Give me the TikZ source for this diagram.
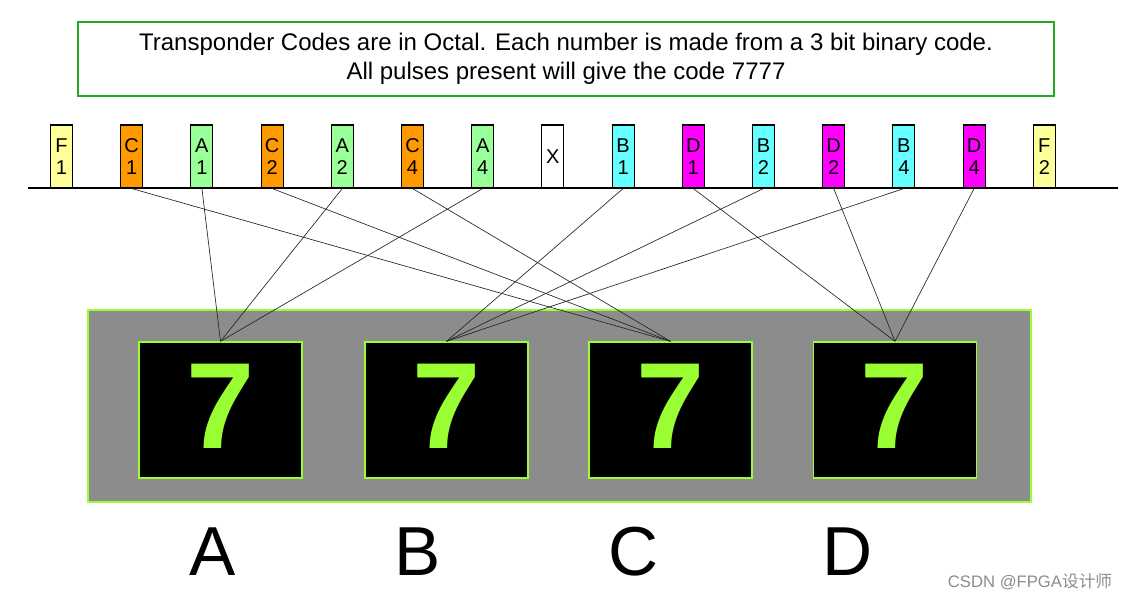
\documentclass[tikz,border=0pt]{standalone}
\usepackage{fontspec}
\setmainfont{Liberation Sans}
\newfontfamily\cjkfont{Noto Sans CJK SC}
\usetikzlibrary{positioning}
\definecolor{pulseF}{HTML}{FFFF99}
\definecolor{pulseC}{HTML}{FF9900}
\definecolor{pulseA}{HTML}{99FF99}
\definecolor{pulseB}{HTML}{66FFFF}
\definecolor{pulseD}{HTML}{FF00FF}
\definecolor{segGreen}{HTML}{99FF33}
\definecolor{titleGreen}{HTML}{22AA22}
\definecolor{panelGray}{HTML}{8C8C8C}

\begin{document}
\begin{tikzpicture}[
    x=0.75pt, y=-0.75pt,
    titlebox/.style={draw=titleGreen, line width=1pt, minimum width=732pt,
                minimum height=55.5pt, align=center, inner sep=0pt,
                font=\fontsize{18}{22}\selectfont},
    pulse/.style={draw, line width=0.8pt, minimum width=16.5pt, minimum height=47.25pt,
                inner sep=0pt, align=center, font=\fontsize{15}{16}\selectfont},
    panel/.style={draw=segGreen, line width=0.8pt, fill=panelGray, minimum width=707.25pt,
                minimum height=144pt, inner sep=0pt},
    display/.style={draw=segGreen, line width=1pt, fill=black, minimum width=122.25pt,
                minimum height=102pt, inner sep=0pt},
    digit/.style={text=segGreen, font=\fontsize{92}{92}\selectfont\bfseries, inner sep=0pt},
    wire/.style={line width=0.5pt, black!85},
    letter/.style={font=\fontsize{52}{52}\selectfont, inner sep=0pt},
]
\useasboundingbox (0,0) rectangle (1130,602);

\node[titlebox] (title) at (566,59)
    {Transponder Codes are in Octal. Each number is made from a 3 bit binary code.\\
     All pulses present will give the code 7777};

% pulse train
\coordinate (base-l) at (28,188);
\coordinate (base-r) at (1118,188);
\draw[line width=0.8pt] (base-l) -- (base-r);

\foreach \name/\txt/\col/\i in {f1/{F\\1}/pulseF/0, c1/{C\\1}/pulseC/1, a1/{A\\1}/pulseA/2,
        c2/{C\\2}/pulseC/3, a2/{A\\2}/pulseA/4, c4/{C\\4}/pulseC/5, a4/{A\\4}/pulseA/6,
        x/X/white/7, b1/{B\\1}/pulseB/8, d1/{D\\1}/pulseD/9, b2/{B\\2}/pulseB/10,
        d2/{D\\2}/pulseD/11, b4/{B\\4}/pulseB/12, d4/{D\\4}/pulseD/13, f2/{F\\2}/pulseF/14}
    \node[pulse, fill=\col] (\name) at ({61.5+70.2*\i},156.5) {\txt};

% display
\node[panel] (panel) at (559.5,406) {};
\node[display] (dA) at (220.5,410) {};
\node[display] (dB) at (446.5,410) {};
\node[display] (dC) at (670.5,410) {};
\node[display] (dD) at (895,410) {};
\foreach \d in {dA, dB, dC, dD}
    \node[digit] at ([yshift=3pt]\d.center) {7};

\foreach \src/\dst in {a1/dA, a2/dA, a4/dA, b1/dB, b2/dB, b4/dB,
        c1/dC, c2/dC, c4/dC, d1/dD, d2/dD, d4/dD}
    \draw[wire] (\src.south) -- (\dst.north);

\node[letter] (labA) at (213,552) {A};
\node[letter] (labB) at (418,552) {B};
\node[letter] (labC) at (634,552) {C};
\node[letter] (labD) at (848,552) {D};

\node[text=black!45, font=\fontsize{12.5}{14}\selectfont] (mark) at (1030,582)
    {CSDN @FPGA{\cjkfont 设计师}};
\end{tikzpicture}
\end{document}
